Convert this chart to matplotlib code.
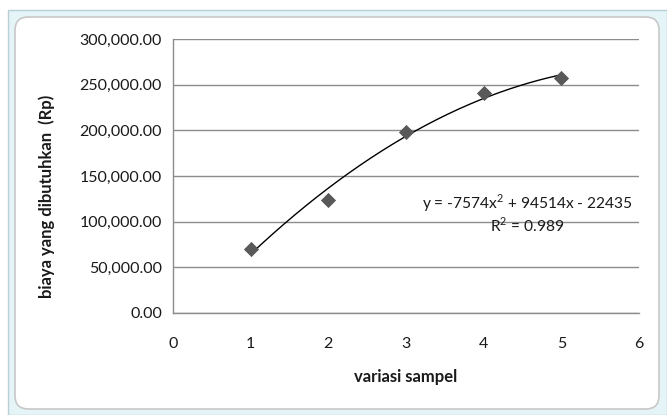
import numpy as np
import matplotlib
matplotlib.use("Agg")
import matplotlib.pyplot as plt
from matplotlib.patches import FancyBboxPatch, Rectangle
from matplotlib.ticker import FuncFormatter

x_vals = [1, 2, 3, 4, 5]
y_vals = [70000, 124000, 198500, 241000, 257000]
x_ticks = [0, 1, 2, 3, 4, 5, 6]
y_ticks = [0, 50000, 100000, 150000, 200000, 250000, 300000]
eq_text = "y = -7574x$^2$ + 94514x - 22435"
r2_text = "R$^2$ = 0.989"

plt.rcParams['font.family'] = ['Lato', 'DejaVu Sans']
plt.rcParams['mathtext.fontset'] = 'custom'
plt.rcParams['mathtext.rm'] = 'Lato'

W, H = 667, 415
fig = plt.figure(figsize=(W/100, H/100), dpi=100)

# outer selection frame
fig.patches.append(Rectangle((8/W, 0), (W-8)/W, (H-10)/H, transform=fig.transFigure,
                             facecolor='#e4f4f7', edgecolor='#b8cfd6', linewidth=1, zorder=0))
fig.patches.append(FancyBboxPatch((15/W, 6/H), (659-15)/W, (H-17-6)/H,
                                  boxstyle="round,pad=0,rounding_size=0.02",
                                  transform=fig.transFigure, facecolor='white',
                                  edgecolor='#c8c8c8', linewidth=1.2, zorder=0.5,
                                  mutation_aspect=W/H))

left, right = 173/W, 639/W
top, bottom = 1-39/H, 1-313/H
ax = fig.add_axes([left, bottom, right-left, top-bottom])
ax.set_zorder(5)
ax.set_facecolor('none')

ax.set_xlim(0, 6)
ax.set_ylim(0, 300000)
ax.set_xticks(x_ticks)
ax.set_yticks(y_ticks)
ax.yaxis.set_major_formatter(FuncFormatter(lambda v, p: f"{v:,.2f}"))
ax.tick_params(length=0, labelsize=11.5, colors='#1a1a1a')
ax.tick_params(axis='x', pad=17)
ax.tick_params(axis='y', pad=8)
ax.grid(axis='y', color='#8c8c8c', linewidth=1)
ax.set_axisbelow(True)
for s in ['top', 'right']:
    ax.spines[s].set_visible(False)
for s in ['left', 'bottom']:
    ax.spines[s].set_color('#8c8c8c')
    ax.spines[s].set_linewidth(1)

coef = np.polyfit(x_vals, y_vals, 2)
xs = np.linspace(min(x_vals), max(x_vals), 200)
ax.plot(xs, np.polyval(coef, xs), color='black', linewidth=1, zorder=3)
ax.scatter(x_vals, y_vals, marker='D', s=60, color='#595959', zorder=4, linewidths=0)

ax.text(4.565, 120000, eq_text, fontsize=11.2, color='#1a1a1a', ha='center', va='center')
ax.text(4.565, 96000, r2_text, fontsize=11.2, color='#1a1a1a', ha='center', va='center')

ax.set_xlabel("variasi sampel", fontsize=12, fontweight='bold', color='#1a1a1a')
ax.xaxis.set_label_coords(0.5, -0.205)
ax.set_ylabel("biaya yang dibutuhkan  (Rp)", fontsize=12, fontweight='bold', color='#1a1a1a')
ax.yaxis.set_label_coords(-0.253, 0.427)

fig.savefig("out.png", dpi=100)
